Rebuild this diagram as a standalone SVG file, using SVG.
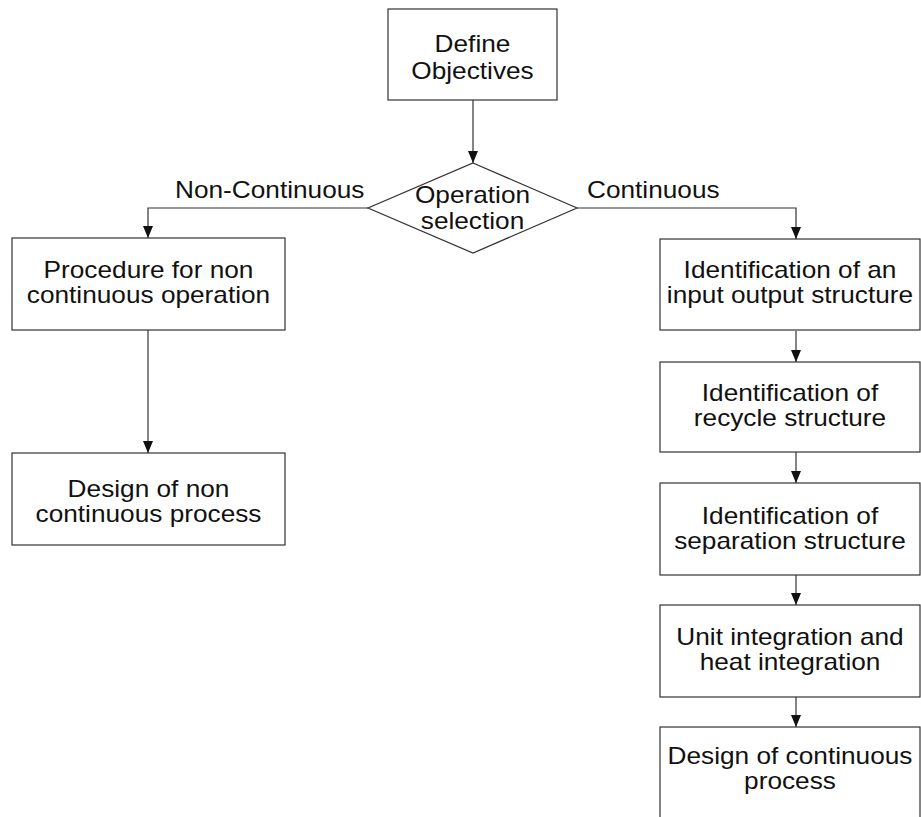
<svg xmlns="http://www.w3.org/2000/svg" width="921" height="817" viewBox="0 0 921 817">
<defs>
<style>
.box{fill:#fff;stroke:#333;stroke-width:1.2}
.ln{fill:none;stroke:#333;stroke-width:1.2}
.t{font-family:"Liberation Sans",Arial,sans-serif;font-size:23px;fill:#111;text-anchor:middle}
.l{font-family:"Liberation Sans",Arial,sans-serif;font-size:23px;fill:#111}
</style>
<marker id="ah" viewBox="0 0 12 10" refX="12" refY="5" markerWidth="12" markerHeight="10" markerUnits="userSpaceOnUse" orient="auto">
<path d="M0,0 L12,5 L0,10 Z" fill="#111"/>
</marker>
</defs>
<rect width="921" height="817" fill="#fff"/>
<g id="connectors">
<path class="ln" d="M473,100 V163" marker-end="url(#ah)"/>
<path class="ln" d="M368,208 H148 V238" marker-end="url(#ah)"/>
<path class="ln" d="M577,208 H796 V239" marker-end="url(#ah)"/>
<path class="ln" d="M148,330 V453" marker-end="url(#ah)"/>
<path class="ln" d="M796,331 V362" marker-end="url(#ah)"/>
<path class="ln" d="M796,452 V483" marker-end="url(#ah)"/>
<path class="ln" d="M796,575 V605" marker-end="url(#ah)"/>
<path class="ln" d="M796,697 V727" marker-end="url(#ah)"/>
<text class="l" transform="translate(175 198) scale(1.14 1)">Non-Continuous</text>
<text class="l" transform="translate(587 198) scale(1.14 1)">Continuous</text>
</g>
<g id="define">
<rect class="box" x="388" y="9" width="169" height="91"/>
<text class="t" transform="translate(472.5 52) scale(1.14 1)">Define</text>
<text class="t" transform="translate(472.5 79) scale(1.14 1)">Objectives</text>
</g>
<g id="operation">
<path class="box" d="M473,163 L577,208 L473,253 L368,208 Z"/>
<text class="t" transform="translate(472.5 203) scale(1.14 1)">Operation</text>
<text class="t" transform="translate(472.5 229) scale(1.14 1)">selection</text>
</g>
<g id="procedure">
<rect class="box" x="12" y="238" width="273" height="92"/>
<text class="t" transform="translate(148.5 278) scale(1.14 1)">Procedure for non</text>
<text class="t" transform="translate(148.5 303) scale(1.14 1)">continuous operation</text>
</g>
<g id="design-non">
<rect class="box" x="12" y="453" width="273" height="92"/>
<text class="t" transform="translate(148.5 497) scale(1.14 1)">Design of non</text>
<text class="t" transform="translate(148.5 522) scale(1.14 1)">continuous process</text>
</g>
<g id="input-output">
<rect class="box" x="660" y="239" width="260" height="91"/>
<text class="t" transform="translate(790 278) scale(1.14 1)">Identification of an</text>
<text class="t" transform="translate(790 303) scale(1.14 1)">input output structure</text>
</g>
<g id="recycle">
<rect class="box" x="660" y="362" width="260" height="90"/>
<text class="t" transform="translate(790 401) scale(1.14 1)">Identification of</text>
<text class="t" transform="translate(790 426) scale(1.14 1)">recycle structure</text>
</g>
<g id="separation">
<rect class="box" x="660" y="483" width="260" height="92"/>
<text class="t" transform="translate(790 524) scale(1.14 1)">Identification of</text>
<text class="t" transform="translate(790 549) scale(1.14 1)">separation structure</text>
</g>
<g id="integration">
<rect class="box" x="660" y="605" width="260" height="92"/>
<text class="t" transform="translate(790 645) scale(1.14 1)">Unit integration and</text>
<text class="t" transform="translate(790 670) scale(1.14 1)">heat integration</text>
</g>
<g id="design-cont">
<rect class="box" x="660" y="727" width="260" height="100"/>
<text class="t" transform="translate(790 764) scale(1.14 1)">Design of continuous</text>
<text class="t" transform="translate(790 789) scale(1.14 1)">process</text>
</g>
</svg>
